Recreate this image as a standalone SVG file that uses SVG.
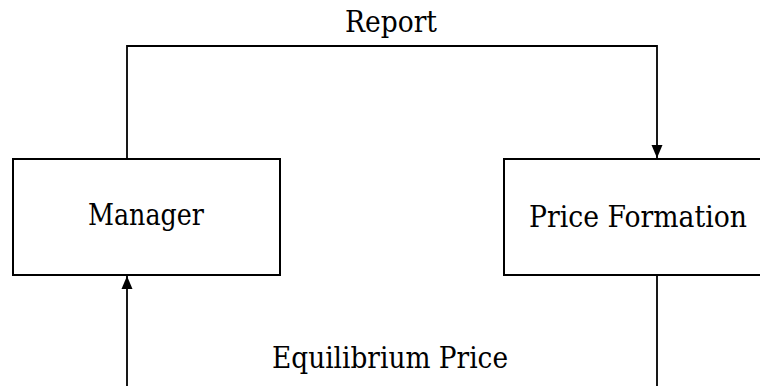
<svg xmlns="http://www.w3.org/2000/svg" width="760" height="386" viewBox="0 0 760 386">
  <style>
    .box { fill: #ffffff; stroke: #000000; stroke-width: 2; }
    .lbl { font-family: "DejaVu Serif", serif; font-size: 29px; fill: #000000; }
    .edge { fill: none; stroke: #000000; stroke-width: 1.8; }
  </style>
  <defs>
    <marker id="arrow" markerUnits="userSpaceOnUse" markerWidth="14" markerHeight="12" refX="13" refY="6" orient="auto">
      <path d="M0,0.5 L13,6 L0,11.5 Z" fill="#000000"/>
    </marker>
  </defs>
  <rect width="760" height="386" fill="#ffffff"/>
  <g id="connectors">
    <path class="edge" d="M127,159 L127,46 L657,46 L657,158" marker-end="url(#arrow)"/>
    <text class="lbl" x="345" y="32" textLength="92" lengthAdjust="spacingAndGlyphs">Report</text>
    <path class="edge" d="M657,275 L657,400 L127,400 L127,276" marker-end="url(#arrow)"/>
    <text class="lbl" x="272" y="368" textLength="236" lengthAdjust="spacingAndGlyphs">Equilibrium Price</text>
  </g>
  <g id="manager">
    <rect class="box" x="13" y="159" width="267" height="116"/>
    <text class="lbl" x="88" y="225" textLength="116" lengthAdjust="spacingAndGlyphs">Manager</text>
  </g>
  <g id="price-formation">
    <rect class="box" x="504" y="159" width="267" height="116"/>
    <text class="lbl" x="529" y="227" textLength="218" lengthAdjust="spacingAndGlyphs">Price Formation</text>
  </g>
</svg>
